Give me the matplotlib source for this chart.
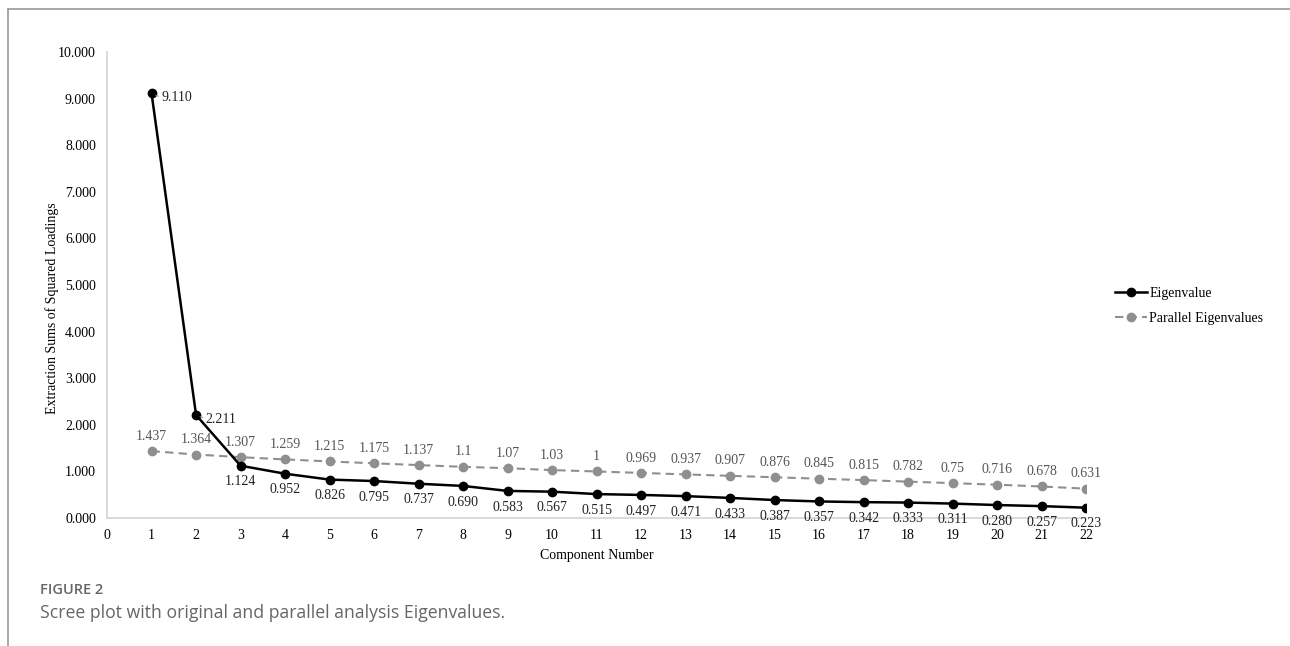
import matplotlib.pyplot as plt
import matplotlib as mpl
from matplotlib.lines import Line2D
from matplotlib.ticker import FormatStrFormatter

mpl.rcParams['font.family'] = 'Liberation Serif'

components = list(range(1, 23))
eigenvalues = [9.110, 2.211, 1.124, 0.952, 0.826, 0.795, 0.737, 0.690, 0.583, 0.567, 0.515,
               0.497, 0.471, 0.433, 0.387, 0.357, 0.342, 0.333, 0.311, 0.280, 0.257, 0.223]
parallel = [1.437, 1.364, 1.307, 1.259, 1.215, 1.175, 1.137, 1.1, 1.07, 1.03, 1,
            0.969, 0.937, 0.907, 0.876, 0.845, 0.815, 0.782, 0.75, 0.716, 0.678, 0.631]
parallel_labels = ['1.437', '1.364', '1.307', '1.259', '1.215', '1.175', '1.137', '1.1', '1.07',
                   '1.03', '1', '0.969', '0.937', '0.907', '0.876', '0.845', '0.815', '0.782',
                   '0.75', '0.716', '0.678', '0.631']

FS = 10

fig = plt.figure(figsize=(12.9, 6.46), dpi=100)
ax = fig.add_axes([0.083, 0.198, 0.759, 0.7215])

ax.plot(components, eigenvalues, color='black', lw=1.8, marker='o', ms=6, label='Eigenvalue', zorder=3)
ax.plot(components, parallel, color='#8f8f8f', lw=1.5, ls=(0, (4, 2.5)), marker='o', ms=6,
        label='Parallel Eigenvalues', zorder=2)

for i, (x, y) in enumerate(zip(components, eigenvalues)):
    if i < 2:
        # short leader dash then the value, right of the point
        ax.annotate(f'{y:.3f}', (x, y), xytext=(7, -3), textcoords='offset points',
                    ha='left', va='center', fontsize=FS, color='#222222')
        ax.annotate('', (x, y), xytext=(5, -2), textcoords='offset points',
                    arrowprops=dict(arrowstyle='-', color='#888888', lw=0.6, shrinkA=0, shrinkB=3))
    else:
        ax.annotate(f'{y:.3f}', (x, y), xytext=(0, -7), textcoords='offset points',
                    ha='center', va='top', fontsize=FS, color='#222222')

for x, y, lab in zip(components, parallel, parallel_labels):
    ax.annotate(lab, (x, y), xytext=(0, 6), textcoords='offset points',
                ha='center', va='bottom', fontsize=FS, color='#555555')

ax.set_xlim(0, 22)
ax.set_ylim(0, 10)
ax.set_xticks(range(0, 23))
ax.set_yticks([0, 1, 2, 3, 4, 5, 6, 7, 8, 9, 10])
ax.yaxis.set_major_formatter(FormatStrFormatter('%.3f'))
ax.tick_params(length=0, labelsize=FS, pad=8)
for s in ['top', 'right']:
    ax.spines[s].set_visible(False)
for s in ['left', 'bottom']:
    ax.spines[s].set_color('#d4d4d4')
    ax.spines[s].set_linewidth(1.2)

ax.set_xlabel('Component Number', fontsize=FS, labelpad=5)
ax.set_ylabel('Extraction Sums of Squared Loadings', fontsize=FS, labelpad=1)
ax.yaxis.set_label_coords(-0.049, 0.45)

ax.legend(loc='center left', bbox_to_anchor=(1.017, 0.455), frameon=False, fontsize=FS,
          handlelength=2.3, handletextpad=0.15, labelspacing=0.9)

# page frame lines
fig.add_artist(Line2D([8 / 1290, 1.0], [1 - 9 / 646, 1 - 9 / 646], color='#9a9a9a', lw=1.2))
fig.add_artist(Line2D([8 / 1290, 8 / 1290], [0, 1 - 9 / 646], color='#9a9a9a', lw=1.2))

fig.text(40 / 1290, 1 - 590 / 646, 'FIGURE 2', family='Open Sans', fontsize=10.5,
         fontweight='semibold', color='#666666', va='center')
fig.text(40 / 1290, 1 - 613 / 646, 'Scree plot with original and parallel analysis Eigenvalues.',
         family='Open Sans', fontsize=12.7, color='#666666', va='center')

fig.savefig('out.png', dpi=100)
